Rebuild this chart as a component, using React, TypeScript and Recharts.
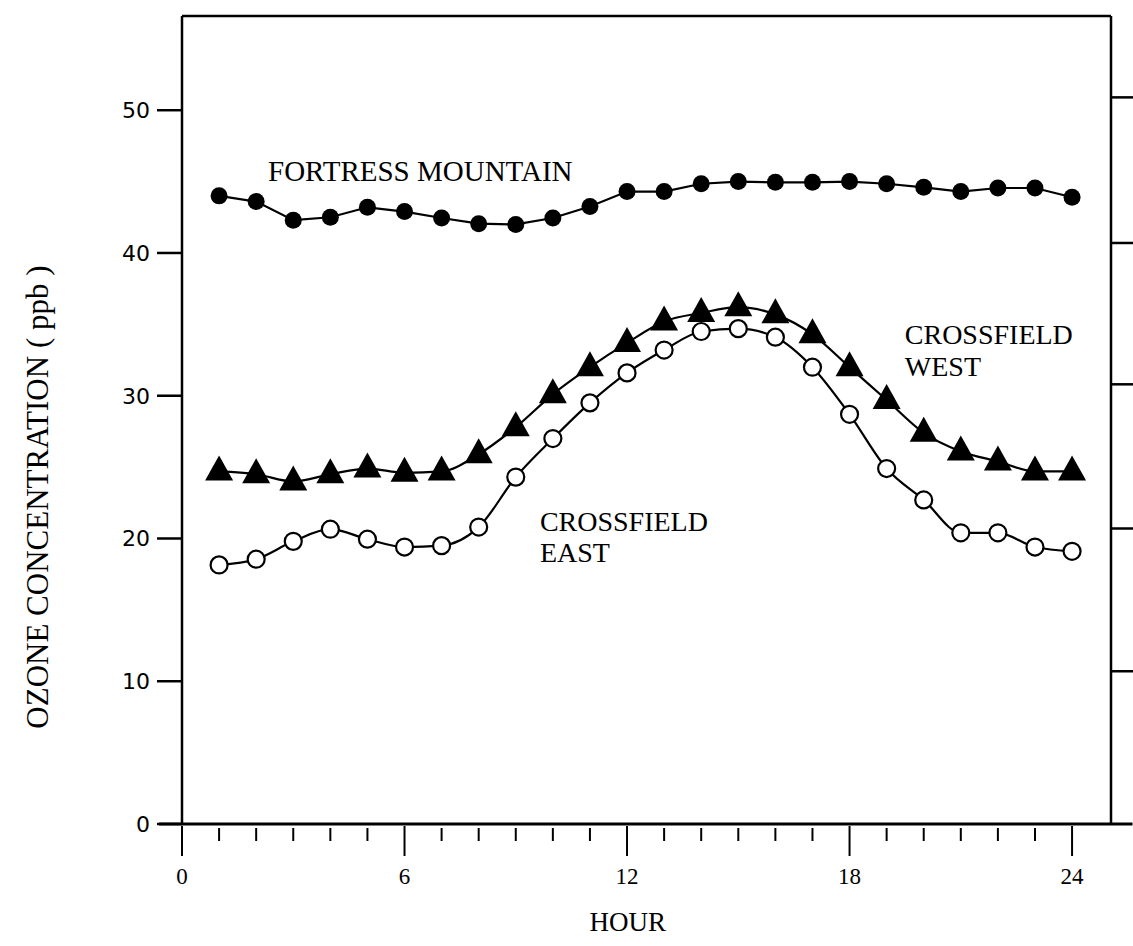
import React from 'react'
import {
  LineChart,
  Line,
  XAxis,
  YAxis,
  ReferenceLine,
  ReferenceDot,
} from 'recharts'

// hourly ozone (ppb)
const hours = [1, 2, 3, 4, 5, 6, 7, 8, 9, 10, 11, 12, 13, 14, 15, 16, 17, 18, 19, 20, 21, 22, 23, 24]
const fortressMountain = [44.0, 43.6, 42.3, 42.5, 43.2, 42.9, 42.45, 42.05, 42.0, 42.45, 43.25, 44.3, 44.3, 44.85, 45.0, 44.95, 44.95, 45.0, 44.85, 44.6, 44.3, 44.55, 44.55, 43.9]
const crossfieldWest = [24.7, 24.5, 24.0, 24.5, 24.9, 24.6, 24.7, 25.9, 27.8, 30.1, 32.0, 33.7, 35.2, 35.8, 36.2, 35.7, 34.3, 32.0, 29.7, 27.4, 26.1, 25.4, 24.7, 24.7]
const crossfieldEast = [18.15, 18.55, 19.8, 20.65, 19.95, 19.4, 19.5, 20.8, 24.3, 27.0, 29.5, 31.6, 33.2, 34.5, 34.7, 34.1, 32.0, 28.7, 24.9, 22.7, 20.4, 20.4, 19.4, 19.1]

const xTicks = [0, 1, 2, 3, 4, 5, 6, 7, 8, 9, 10, 11, 12, 13, 14, 15, 16, 17, 18, 19, 20, 21, 22, 23, 24]
const yTicks = [0, 10, 20, 30, 40, 50]
const rightTicks = [10.7, 20.7, 30.8, 40.7, 50.9]

const X_MAX = 25.05
const Y_MAX = 56.6

const data = hours.map((hour, i) => ({
  hour,
  fortress: fortressMountain[i],
  west: crossfieldWest[i],
  east: crossfieldEast[i],
}))

const SERIF = '"Liberation Serif", "Times New Roman", serif'

const HourTick = (props: any) => {
  const { x, y, payload } = props
  const major = payload.value % 6 === 0
  return (
    <g>
      <line
        x1={x}
        x2={x}
        y1={y + (major ? 2 : 4)}
        y2={y + (major ? 32 : 17)}
        stroke='#000'
        strokeWidth={2}
      />
      {major && (
        <text x={x} y={y + 60} textAnchor='middle' fontFamily={SERIF} fontSize={23} fill='#000'>
          {payload.value}
        </text>
      )}
    </g>
  )
}

const FilledDot = (props: any) => {
  const { cx, cy, index } = props
  return <circle key={`f-${index}`} cx={cx} cy={cy} r={8.5} fill='#000' />
}

const OpenDot = (props: any) => {
  const { cx, cy, index } = props
  return <circle key={`o-${index}`} cx={cx} cy={cy} r={8.5} fill='#fff' stroke='#000' strokeWidth={2.2} />
}

const TriangleDot = (props: any) => {
  const { cx, cy, index } = props
  return (
    <path
      key={`t-${index}`}
      d={`M${cx},${cy - 16} L${cx + 14},${cy + 9} L${cx - 14},${cy + 9} Z`}
      fill='#000'
    />
  )
}

const note = (lines: string[], size: number, anchor: 'start' | 'middle' = 'start', rotate = false) =>
  (p: any) => (
    <g>
      {lines.map((t, i) => (
        <text
          key={t}
          x={p.cx}
          y={p.cy + i * size * 1.12}
          textAnchor={anchor}
          fontFamily={SERIF}
          fontSize={size}
          fill='#000'
          transform={rotate ? `rotate(-90, ${p.cx}, ${p.cy})` : undefined}
        >
          {t}
        </text>
      ))}
    </g>
  )

export default function App() {
  return (
    <div style={{ position: 'absolute', left: 0, top: 0, background: '#fff' }}>
      <LineChart
        width={1133}
        height={946}
        data={data}
        margin={{ top: 16, right: 0, bottom: 62, left: 0 }}
      >
        <XAxis
          dataKey='hour'
          type='number'
          domain={[0, X_MAX]}
          ticks={xTicks}
          interval={0}
          allowDataOverflow
          axisLine={false}
          tickLine={false}
          tickSize={0}
          tickMargin={0}
          height={60}
          tick={<HourTick />}
        />
        <YAxis
          yAxisId='left'
          width={182}
          type='number'
          domain={[0, Y_MAX]}
          ticks={yTicks}
          interval={0}
          allowDataOverflow
          tickSize={25}
          tickMargin={7}
          axisLine={{ stroke: '#000', strokeWidth: 2.5 }}
          tickLine={{ stroke: '#000', strokeWidth: 2.5 }}
          tick={{ fill: '#000', fontSize: 22, fontFamily: '"DejaVu Sans", sans-serif' }}
        />
        <YAxis
          yAxisId='right'
          orientation='right'
          width={22}
          type='number'
          domain={[0, Y_MAX]}
          ticks={rightTicks}
          interval={0}
          allowDataOverflow
          tickSize={22}
          tick={() => <g />}
          axisLine={{ stroke: '#000', strokeWidth: 2.5 }}
          tickLine={{ stroke: '#000', strokeWidth: 2.5 }}
        />
        <ReferenceLine yAxisId='left' y={Y_MAX} stroke='#000' strokeWidth={2.5} ifOverflow='visible' />
        <ReferenceLine
          yAxisId='left'
          segment={[{ x: -0.62, y: 0 }, { x: 25.63, y: 0 }]}
          stroke='#000'
          strokeWidth={2.8}
          ifOverflow='visible'
        />
        <Line
          yAxisId='left'
          dataKey='fortress'
          type='linear'
          stroke='#000'
          strokeWidth={2.2}
          dot={FilledDot}
          isAnimationActive={false}
        />
        <Line
          yAxisId='left'
          dataKey='west'
          type='monotone'
          stroke='#000'
          strokeWidth={2.2}
          dot={TriangleDot}
          isAnimationActive={false}
        />
        <Line
          yAxisId='left'
          dataKey='east'
          type='monotone'
          stroke='#000'
          strokeWidth={2.2}
          dot={OpenDot}
          isAnimationActive={false}
        />
        <ReferenceDot yAxisId='left' x={2.32} y={45.06} r={0} ifOverflow='visible' shape={note(['FORTRESS MOUNTAIN'], 29)} />
        <ReferenceDot yAxisId='left' x={19.49} y={33.6} r={0} ifOverflow='visible' shape={note(['CROSSFIELD', 'WEST'], 28)} />
        <ReferenceDot yAxisId='left' x={9.65} y={20.55} r={0} ifOverflow='visible' shape={note(['CROSSFIELD', 'EAST'], 28)} />
        <ReferenceDot yAxisId='left' x={12.02} y={-7.5} r={0} ifOverflow='visible' shape={note(['HOUR'], 27, 'middle')} />
        <ReferenceDot yAxisId='left' x={-3.62} y={22.9} r={0} ifOverflow='visible' shape={note(['OZONE CONCENTRATION ( ppb )'], 31, 'middle', true)} />
      </LineChart>
    </div>
  )
}
